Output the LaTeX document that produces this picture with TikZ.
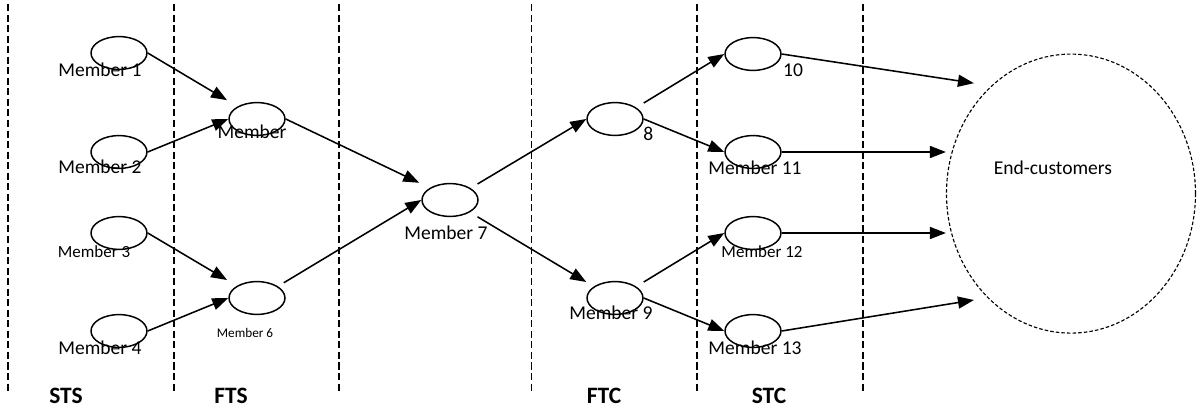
\documentclass[tikz,border=0pt]{standalone}
\usepackage{fontspec}
\setmainfont{Carlito}
\usetikzlibrary{arrows.meta,positioning,calc,shapes.geometric}

\begin{document}
\begin{tikzpicture}[
    member/.style={ellipse,draw,line width=1.05pt,minimum width=1.4cm,minimum height=0.82cm,inner sep=0pt},
    lbl/.style={inner sep=0pt,font=\fontsize{13.9}{16}\selectfont},
    lblsmall/.style={inner sep=0pt,font=\fontsize{12.1}{14}\selectfont},
    lbltiny/.style={inner sep=0pt,font=\fontsize{9.4}{11}\selectfont},
    tier/.style={inner sep=0pt,font=\fontsize{16.7}{19}\selectfont\bfseries},
    flow/.style={line width=1.1pt,-{Triangle[length=4mm,width=3mm]}},
    divider/.style={line width=1pt,dash pattern=on 5pt off 2.5pt},
]
\useasboundingbox (0,0) rectangle (29.95,-10.25);

% tier dividers
\foreach \x in {0.2,4.35,8.475,13.29,17.425,21.575}
    \draw[divider] (\x,-0.1) -- (\x,-9.82);

% members
\node[member] (m1) at (2.975,-1.325) {};
\node[member] (m2) at (2.975,-3.8) {};
\node[member] (m3) at (2.975,-5.825) {};
\node[member] (m4) at (2.975,-8.275) {};
\node[member] (m5) at (6.425,-2.975) {};
\node[member] (m6) at (6.425,-7.45) {};
\node[member] (m7) at (11.25,-5.0) {};
\node[member] (m8) at (15.375,-2.975) {};
\node[member] (m9) at (15.375,-7.45) {};
\node[member] (m10) at (18.825,-1.35) {};
\node[member] (m11) at (18.825,-3.8) {};
\node[member] (m12) at (18.825,-5.825) {};
\node[member] (m13) at (18.825,-8.275) {};
\node[ellipse,draw,line width=0.8pt,dash pattern=on 2.5pt off 1.5pt,
      minimum width=6.225cm,minimum height=6.975cm] (ec) at (26.775,-4.84) {};

\node[lbl] (l1) at (2.5,-1.74) {Member 1};
\node[lbl] (l2) at (2.5,-4.175) {Member 2};
\node[lblsmall] (l3) at (2.35,-6.3) {Member 3};
\node[lbl] (l4) at (2.5,-8.7) {Member 4};
\node[lbl] (l5) at (6.3,-3.3) {Member};
\node[lbltiny] (l6) at (6.125,-8.325) {Member 6};
\node[lbl] (l7) at (11.15,-5.825) {Member 7};
\node[lbl] (l8) at (16.21,-3.35) {8};
\node[lbl] (l9) at (15.275,-7.825) {Member 9};
\node[lbl] (l10) at (19.825,-1.75) {10};
\node[lbl] (l11) at (18.875,-4.2) {Member 11};
\node[lblsmall] (l12) at (19.05,-6.3) {Member 12};
\node[lbl] (l13) at (18.875,-8.7) {Member 13};
\node[lbl] (lec) at (26.325,-4.2) {End-customers};

\node[tier] (sts) at (1.65,-9.9) {STS};
\node[tier] (fts) at (5.775,-9.9) {FTS};
\node[tier] (ftc) at (15.1,-9.9) {FTC};
\node[tier] (stc) at (19.225,-9.9) {STC};

% flows
\draw[flow] (m1.east) -- ($(m5.west)+(-0.03,0.47)$);
\draw[flow] (m2.east) -- (m5.west);
\draw[flow] (m3.east) -- ($(m6.west)+(-0.03,0.45)$);
\draw[flow] (m4.east) -- (m6.west);
\draw[flow] (m5.east) -- ($(m7.west)+(-0.05,0.43)$);
\draw[flow] ($(m6.east)+(-0.05,0.38)$) -- (m7.west);
\draw[flow] ($(m7.east)+(-0.03,0.4)$) -- (m8.west);
\draw[flow] ($(m7.east)+(-0.03,-0.42)$) -- ($(m9.west)+(0,0.4)$);
\draw[flow] ($(m8.east)+(0,0.4)$) -- (m10.west);
\draw[flow] (m8.east) -- (m11.west);
\draw[flow] ($(m9.east)+(0,0.4)$) -- (m12.west);
\draw[flow] (m9.east) -- (m13.west);
\draw[flow] (m10.east) -- ($(ec.west)+(0.7,2.76)$);
\draw[flow] (m11.east) -- (m11.east -| ec.west);
\draw[flow] (m12.east) -- (m12.east -| ec.west);
\draw[flow] (m13.east) -- ($(ec.west)+(0.7,-2.66)$);
\end{tikzpicture}
\end{document}
